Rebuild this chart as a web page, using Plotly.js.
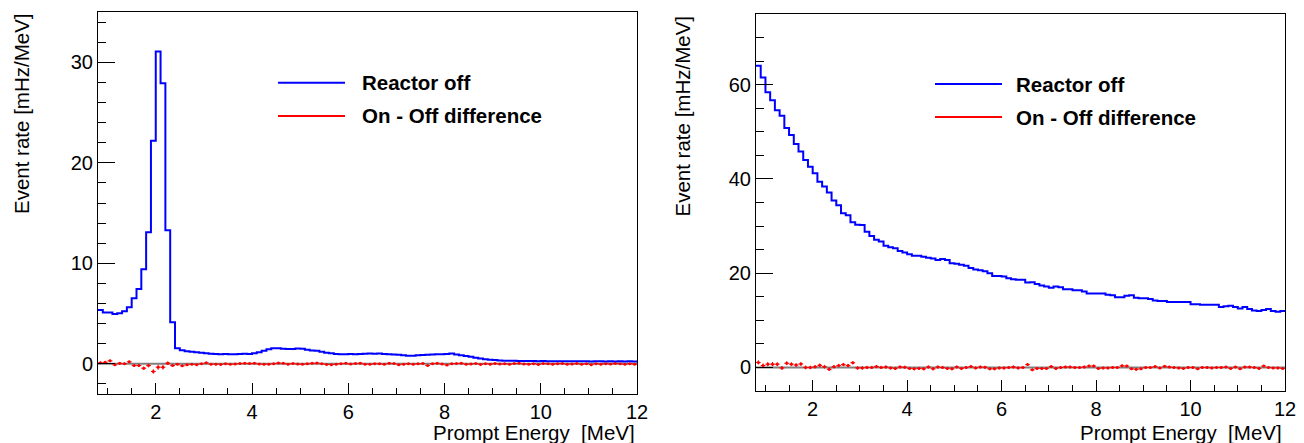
<!DOCTYPE html>
<html>
<head>
<meta charset="utf-8">
<script src="https://cdn.plot.ly/plotly-3.0.1.min.js"></script>
<style>html,body{margin:0;padding:0;background:#fff;}#chart{width:1304px;height:443px;}</style>
</head>
<body>
<div id="chart"></div>
<script>
// Histogram binning (MeV)
const E_MIN = 0.8;
const BIN_W = 0.1;

// Left panel: Reactor off (mHz/MeV), 112 bins 0.8 - 12.0 MeV
const leftOff = [
  5.36, 5.10, 5.10, 4.97, 5.03, 5.23, 5.63, 6.52, 7.45, 9.40,
  13.08, 22.20, 31.06, 27.90, 13.30, 4.14, 1.56, 1.35, 1.25, 1.20,
  1.15, 1.10, 1.05, 1.00, 0.98, 0.95, 0.97, 0.96, 0.95, 0.98,
  1.00, 0.98, 1.05, 1.15, 1.30, 1.45, 1.55, 1.55, 1.50, 1.48,
  1.47, 1.52, 1.50, 1.40, 1.32, 1.30, 1.20, 1.10, 1.05, 0.98,
  0.95, 0.95, 0.97, 0.96, 0.98, 1.00, 1.02, 1.00, 1.03, 0.98,
  0.95, 0.93, 0.90, 0.85, 0.80, 0.80, 0.85, 0.88, 0.90, 0.92,
  0.95, 0.96, 0.98, 1.03, 0.92, 0.85, 0.78, 0.70, 0.60, 0.52,
  0.45, 0.40, 0.37, 0.34, 0.32, 0.31, 0.30, 0.29, 0.29, 0.28,
  0.28, 0.27, 0.28, 0.26, 0.27, 0.26, 0.27, 0.25, 0.26, 0.25,
  0.26, 0.25, 0.24, 0.25, 0.26, 0.24, 0.25, 0.24, 0.25, 0.24,
  0.25, 0.24
];
// Left panel: On - Off difference
const leftDiff = [
  0.10, 0.15, 0.30, -0.10, 0.05, 0.00, 0.20, -0.17, -0.17, -0.43,
  -0.17, -0.76, -0.33, -0.33, 0.07, -0.17, -0.05, -0.20, -0.10, -0.05,
  -0.08, 0.00, 0.10, -0.05, -0.03, -0.06, 0.00, -0.04, -0.02, 0.03,
  0.05, 0.04, 0.06, -0.02, -0.05, -0.03, 0.02, 0.08, 0.05, -0.03,
  0.03, -0.02, -0.05, 0.00, 0.06, 0.08, 0.02, -0.06, -0.08, -0.03,
  0.02, 0.05, -0.02, 0.04, 0.06, -0.03, -0.05, 0.02, 0.00, -0.04,
  0.06, 0.03, -0.10, -0.03, 0.02, -0.05, 0.00, 0.04, -0.17, 0.02,
  0.05, -0.02, -0.12, 0.00, 0.03, 0.06, -0.04, -0.02, 0.03, -0.06,
  0.02, -0.03, 0.04, -0.02, 0.01, -0.04, 0.03, 0.05, -0.02, -0.04,
  0.02, -0.06, 0.03, 0.00, -0.03, 0.02, 0.04, -0.05, -0.02, 0.03,
  -0.04, 0.02, -0.08, 0.02, -0.03, 0.01, -0.02, 0.04, 0.00, -0.05,
  0.02, -0.03
];
const leftErr = [
  0.12, 0.12, 0.12, 0.12, 0.12, 0.12, 0.13, 0.14, 0.15, 0.16,
  0.18, 0.22, 0.25, 0.24, 0.18, 0.12, 0.08, 0.07, 0.07, 0.07,
  0.06, 0.06, 0.06, 0.06, 0.06, 0.06, 0.06, 0.06, 0.06, 0.06,
  0.06, 0.06, 0.06, 0.06, 0.07, 0.07, 0.07, 0.07, 0.07, 0.07,
  0.07, 0.07, 0.07, 0.07, 0.07, 0.07, 0.06, 0.06, 0.06, 0.06,
  0.06, 0.06, 0.06, 0.06, 0.06, 0.06, 0.06, 0.06, 0.06, 0.06,
  0.06, 0.06, 0.06, 0.06, 0.06, 0.06, 0.06, 0.06, 0.06, 0.06,
  0.06, 0.06, 0.06, 0.06, 0.06, 0.06, 0.06, 0.06, 0.05, 0.05,
  0.05, 0.05, 0.05, 0.05, 0.05, 0.05, 0.05, 0.05, 0.05, 0.05,
  0.05, 0.05, 0.05, 0.05, 0.05, 0.05, 0.05, 0.05, 0.05, 0.05,
  0.05, 0.05, 0.05, 0.05, 0.05, 0.05, 0.05, 0.05, 0.05, 0.05,
  0.05, 0.05
];

// Right panel: Reactor off
const rightOff = [
  64.0, 61.5, 58.4, 56.7, 54.6, 53.4, 50.8, 49.3, 47.4, 45.8,
  44.0, 42.6, 41.2, 39.4, 38.4, 37.1, 35.4, 34.4, 32.7, 32.3,
  30.8, 30.3, 30.2, 28.8, 27.9, 27.1, 26.7, 25.8, 25.5, 25.3,
  24.7, 24.4, 24.0, 23.7, 23.7, 23.5, 23.3, 23.1, 22.8, 23.0,
  22.8, 22.1, 22.0, 21.8, 21.6, 21.1, 20.8, 20.6, 20.4, 20.0,
  19.4, 19.4, 19.3, 18.9, 18.7, 18.6, 18.6, 18.0, 18.1, 17.7,
  17.4, 17.2, 16.9, 17.2, 17.0, 16.6, 16.6, 16.4, 16.4, 16.1,
  15.7, 15.7, 15.7, 15.7, 15.4, 15.3, 14.9, 14.9, 15.2, 15.3,
  14.8, 14.7, 14.7, 14.5, 14.2, 14.1, 14.1, 13.9, 13.9, 13.9,
  13.9, 13.9, 13.4, 13.4, 13.3, 13.3, 13.3, 13.3, 12.8, 13.0,
  13.1, 12.8, 12.5, 12.8, 12.4, 12.1, 12.0, 12.2, 12.4, 12.0,
  11.8, 12.0
];
// Right panel: On - Off difference
const rightDiff = [
  1.06, 0.40, 0.70, 0.70, 0.70, -0.10, 0.90, 0.70, 0.50, 0.75,
  0.00, 0.00, 0.15, 0.45, 0.15, -0.40, 0.15, 0.40, 0.60, 0.40,
  1.00, -0.10, -0.10, 0.00, 0.00, 0.20, 0.00, 0.10, -0.10, -0.20,
  0.10, 0.05, -0.20, -0.30, -0.20, -0.30, 0.10, -0.30, 0.10, 0.00,
  -0.20, -0.30, 0.10, -0.20, 0.00, 0.20, -0.10, 0.10, 0.05, -0.30,
  -0.30, -0.10, -0.10, 0.00, 0.10, -0.10, 0.00, 0.60, -0.50, -0.20,
  -0.20, -0.20, 0.20, -0.20, 0.00, 0.10, 0.10, 0.00, 0.00, 0.10,
  0.30, 0.30, -0.20, -0.10, -0.10, 0.00, 0.00, 0.35, 0.30, -0.30,
  -0.40, -0.30, 0.00, 0.00, 0.20, -0.10, 0.25, 0.10, 0.00, -0.10,
  -0.20, 0.00, 0.00, -0.30, 0.00, 0.00, -0.10, 0.00, 0.00, 0.10,
  -0.20, 0.10, -0.30, 0.10, 0.10, 0.00, -0.20, 0.30, 0.00, -0.10,
  -0.10, -0.20
];
const rightErr = [
  0.45, 0.45, 0.45, 0.45, 0.42, 0.42, 0.42, 0.40, 0.40, 0.40,
  0.40, 0.38, 0.38, 0.38, 0.38, 0.36, 0.36, 0.36, 0.36, 0.35,
  0.35, 0.35, 0.34, 0.34, 0.34, 0.33, 0.33, 0.33, 0.33, 0.32,
  0.32, 0.32, 0.32, 0.32, 0.32, 0.32, 0.31, 0.31, 0.31, 0.31,
  0.31, 0.31, 0.31, 0.30, 0.30, 0.30, 0.30, 0.30, 0.30, 0.30,
  0.30, 0.30, 0.30, 0.30, 0.29, 0.29, 0.29, 0.29, 0.29, 0.29,
  0.29, 0.29, 0.28, 0.28, 0.28, 0.28, 0.28, 0.28, 0.28, 0.28,
  0.28, 0.28, 0.27, 0.27, 0.27, 0.27, 0.27, 0.27, 0.27, 0.27,
  0.27, 0.27, 0.27, 0.26, 0.26, 0.26, 0.26, 0.26, 0.26, 0.26,
  0.26, 0.26, 0.26, 0.26, 0.26, 0.26, 0.25, 0.25, 0.25, 0.25,
  0.25, 0.25, 0.25, 0.25, 0.25, 0.25, 0.25, 0.25, 0.25, 0.25,
  0.25, 0.25
];

const legendLabels = ["Reactor off", "On - Off difference"];
const xTitle = "Prompt Energy\u00a0\u00a0[MeV]";
const yTitle = "Event rate [mHz/MeV]";

function edges(n) { const e = []; for (let i = 0; i <= n; i++) e.push(+(E_MIN + i * BIN_W).toFixed(4)); return e; }
function centers(n) { const c = []; for (let i = 0; i < n; i++) c.push(+(E_MIN + (i + 0.5) * BIN_W).toFixed(4)); return c; }

function stepTrace(vals, xa, ya) {
  return {
    x: edges(vals.length), y: vals.concat([vals[vals.length - 1]]),
    type: 'scatter', mode: 'lines', line: { shape: 'hv', color: '#0000ff', width: 2 },
    xaxis: xa, yaxis: ya, name: legendLabels[0], showlegend: false, hoverinfo: 'x+y'
  };
}
function diffTrace(vals, errs, xa, ya) {
  return {
    x: centers(vals.length), y: vals, type: 'scatter', mode: 'markers',
    marker: { color: '#ff0000', size: 3 },
    error_y: { type: 'data', array: errs, visible: true, color: '#ff0000', thickness: 1, width: 0 },
    error_x: { type: 'constant', value: BIN_W / 2, visible: true, color: '#ff0000', thickness: 1, width: 0 },
    xaxis: xa, yaxis: ya, name: legendLabels[1], showlegend: false
  };
}

const data = [
  stepTrace(leftOff, 'x', 'y'),
  diffTrace(leftDiff, leftErr, 'x', 'y'),
  stepTrace(rightOff, 'x2', 'y2'),
  diffTrace(rightDiff, rightErr, 'x2', 'y2')
];

const FONT = 'Liberation Sans, Arial, Helvetica, sans-serif';
const W = 1304, H = 443;
const px = v => v / W, py = v => 1 - v / H;

function xax(dom, anchor) {
  return {
    domain: dom, anchor: anchor, range: [0.8, 12], showline: true, mirror: true,
    linecolor: '#000', linewidth: 1, ticks: 'inside', ticklen: 11, tickwidth: 1, tickcolor: '#000',
    tick0: 0, dtick: 2, showgrid: false, zeroline: false,
    minor: { tick0: 0, dtick: 0.5, ticks: 'inside', ticklen: 6, tickwidth: 1, tickcolor: '#000', showgrid: false },
    tickfont: { family: FONT, size: 20, color: '#000' }
  };
}
function yax(dom, anchor, range, dtick, mdtick) {
  return {
    domain: dom, anchor: anchor, range: range, showline: true, mirror: true,
    linecolor: '#000', linewidth: 1, ticks: 'inside', ticklen: 17, tickwidth: 1, tickcolor: '#000',
    tick0: 0, dtick: dtick, showgrid: false, zeroline: false,
    minor: { tick0: 0, dtick: mdtick, ticks: 'inside', ticklen: 8, tickwidth: 1, tickcolor: '#000', showgrid: false },
    tickfont: { family: FONT, size: 20, color: '#000' }
  };
}

const shapes = [
  { type: 'line', xref: 'x domain', yref: 'y', x0: 0, x1: 1, y0: 0, y1: 0, line: { color: '#808080', width: 2 }, layer: 'below' },
  { type: 'line', xref: 'x2 domain', yref: 'y2', x0: 0, x1: 1, y0: 0, y1: 0, line: { color: '#808080', width: 2 }, layer: 'below' },
  // legend samples
  { type: 'line', xref: 'paper', yref: 'paper', x0: px(278), x1: px(345), y0: py(82.7), y1: py(82.7), line: { color: '#0000ff', width: 2 } },
  { type: 'line', xref: 'paper', yref: 'paper', x0: px(278), x1: px(345), y0: py(116), y1: py(116), line: { color: '#ff0000', width: 2 } },
  { type: 'line', xref: 'paper', yref: 'paper', x0: px(935), x1: px(1002), y0: py(84), y1: py(84), line: { color: '#0000ff', width: 2 } },
  { type: 'line', xref: 'paper', yref: 'paper', x0: px(935), x1: px(1002), y0: py(117), y1: py(117), line: { color: '#ff0000', width: 2 } }
];

function ann(text, x, y, opts) {
  return Object.assign({ text: text, xref: 'paper', yref: 'paper', x: x, y: y, showarrow: false,
    font: { family: FONT, size: 20.5, color: '#000' } }, opts);
}
const annotations = [
  ann('<b>' + legendLabels[0] + '</b>', px(360), py(82.7), { xanchor: 'left', yanchor: 'middle' }),
  ann('<b>' + legendLabels[1] + '</b>', px(360), py(115), { xanchor: 'left', yanchor: 'middle' }),
  ann('<b>' + legendLabels[0] + '</b>', px(1014), py(84), { xanchor: 'left', yanchor: 'middle' }),
  ann('<b>' + legendLabels[1] + '</b>', px(1014), py(117), { xanchor: 'left', yanchor: 'middle' }),
  ann(yTitle, px(21.5), py(11), { xanchor: 'center', yanchor: 'top', textangle: -90 }),
  ann(yTitle, px(682), py(14), { xanchor: 'center', yanchor: 'top', textangle: -90 }),
  ann(xTitle, px(637), py(432), { xanchor: 'right', yanchor: 'middle' }),
  ann(xTitle, px(1284), py(432), { xanchor: 'right', yanchor: 'middle' })
];

const layout = {
  width: W, height: H, margin: { l: 0, r: 0, t: 0, b: 0, pad: 0 },
  paper_bgcolor: '#fff', plot_bgcolor: '#fff', showlegend: false,
  xaxis: xax([px(98), px(637)], 'y'),
  yaxis: yax([1 - 394 / H, 1 - 12 / H], 'x', [-3, 35], 10, 2),
  xaxis2: xax([px(756), px(1285)], 'y2'),
  yaxis2: yax([1 - 391 / H, 1 - 14 / H], 'x2', [-5, 75], 20, 5),
  shapes: shapes, annotations: annotations
};

Plotly.newPlot('chart', data, layout, { staticPlot: true, displayModeBar: false });
</script>
</body>
</html>
